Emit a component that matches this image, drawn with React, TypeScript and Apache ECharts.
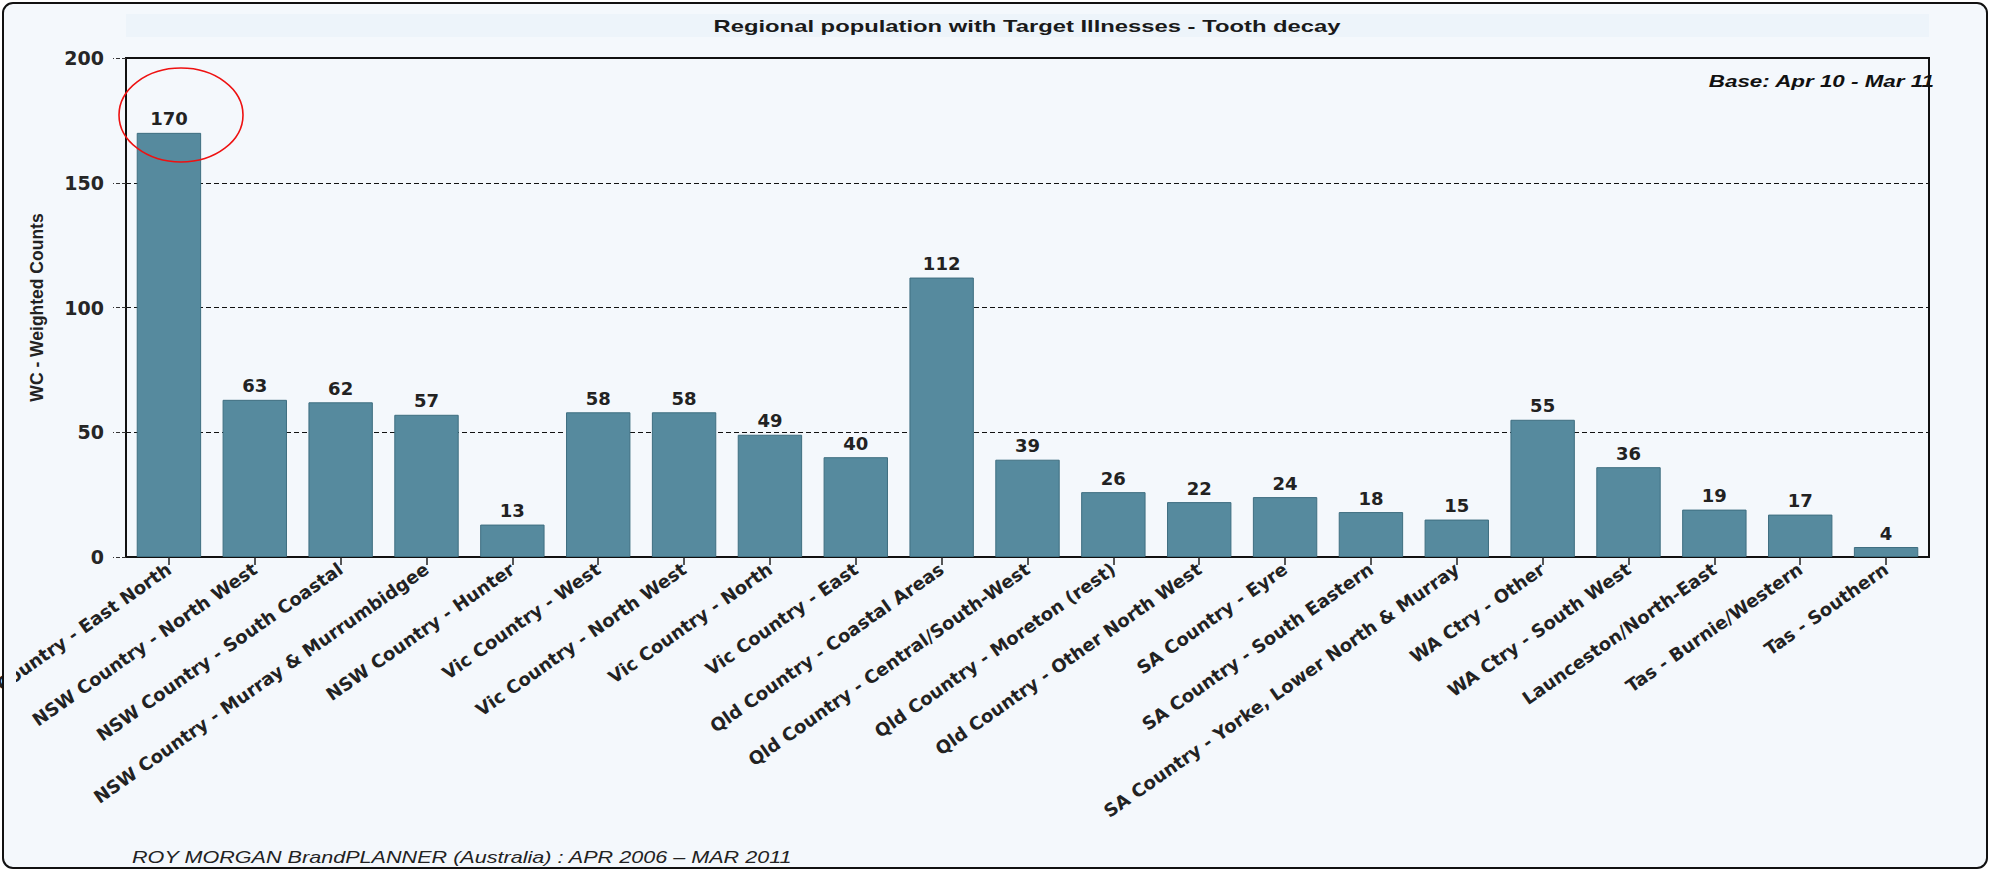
import React, { useEffect, useRef } from "react";
import * as echarts from "echarts";

const categories = [
  "NSW Country - East North",
  "NSW Country - North West",
  "NSW Country - South Coastal",
  "NSW Country - Murray & Murrumbidgee",
  "NSW Country - Hunter",
  "Vic Country - West",
  "Vic Country - North West",
  "Vic Country - North",
  "Vic Country - East",
  "Qld Country - Coastal Areas",
  "Qld Country - Central/South-West",
  "Qld Country - Moreton (rest)",
  "Qld Country - Other North West",
  "SA Country - Eyre",
  "SA Country - South Eastern",
  "SA Country - Yorke, Lower North & Murray",
  "WA Ctry - Other",
  "WA Ctry - South West",
  "Launceston/North-East",
  "Tas - Burnie/Western",
  "Tas - Southern",
];

const values = [170, 63, 62, 57, 13, 58, 58, 49, 40, 112, 39, 26, 22, 24, 18, 15, 55, 36, 19, 17, 4];

const yMin = 0;
const yMax = 200;
const yInterval = 50;

const titleText = "Regional population with Target Illnesses - Tooth decay";
const baseText = "Base: Apr 10 - Mar 11";
const footerText = "ROY MORGAN BrandPLANNER (Australia) : APR 2006 \u2013 MAR 2011";
const yAxisName = "WC - Weighted Counts";

export default function App() {
  const ref = useRef<HTMLDivElement>(null);
  useEffect(() => {
    document.body.style.margin = "0";
    const chart = echarts.init(ref.current!, null, { renderer: "svg" });
    const bg = "#f4f8fc";
    chart.setOption({
      animation: false,
      backgroundColor: "#ffffff",
      grid: {
        left: 126,
        right: 61,
        top: 58,
        bottom: 314,
        show: true,
        borderColor: "#111111",
        borderWidth: 2,
        backgroundColor: "transparent",
        containLabel: false,
        outerBoundsMode: "none",
      },
      xAxis: {
        type: "category",
        data: categories,
        axisLine: { show: true, lineStyle: { color: "#111111", width: 2 } },
        axisTick: { show: true, alignWithLabel: true, length: 8, lineStyle: { color: "#222222", width: 1.5 } },
        axisLabel: {
          rotate: 35,
          margin: 10,
          interval: 0,
          fontFamily: "DejaVu Sans",
          fontWeight: "bold",
          fontSize: 18,
          color: "#222222",
        },
        splitLine: { show: false },
      },
      yAxis: {
        type: "value",
        min: yMin,
        max: yMax,
        interval: yInterval,
        name: yAxisName,
        nameLocation: "middle",
        nameGap: 80,
        nameTextStyle: { fontFamily: "Liberation Sans", fontWeight: "bold", fontSize: 17.5, color: "#222222" },
        axisLine: { show: true, lineStyle: { color: "#111111", width: 2 } },
        axisTick: { show: true, length: 13, lineStyle: { color: "#333333", type: "dashed" } },
        axisLabel: { margin: 22, fontFamily: "DejaVu Sans", fontWeight: "bold", fontSize: 19, color: "#262626" },
        splitLine: { show: true, lineStyle: { color: "#111111", type: [5, 3], width: 1 } },
      },
      series: [
        {
          type: "bar",
          data: values,
          barCategoryGap: "25%",
          itemStyle: { color: "#568A9E", borderColor: "#3E6E80", borderWidth: 1 },
          label: {
            show: true,
            position: "top",
            distance: 5,
            fontFamily: "DejaVu Sans",
            fontWeight: "bold",
            fontSize: 18,
            color: "#222222",
          },
        },
      ],
      graphic: [
        {
          type: "rect",
          z: -10,
          shape: { x: 3, y: 3, width: 1984, height: 865, r: 10 },
          style: { fill: bg, stroke: "none" },
          silent: true,
        },
        {
          type: "rect",
          z: -5,
          shape: { x: 126, y: 14, width: 1803, height: 23 },
          style: { fill: "#edf4fa" },
          silent: true,
        },
        {
          type: "text",
          z: 10,
          x: 1027,
          y: 26,
          scaleX: 1.4,
          style: {
            text: titleText,
            font: "bold 17px 'Liberation Sans'",
            fill: "#1a1a1a",
            textAlign: "center",
            textVerticalAlign: "middle",
            align: "center",
            verticalAlign: "middle",
          },
        },
        {
          type: "text",
          z: 10,
          x: 1934,
          y: 81,
          scaleX: 1.4,
          style: {
            text: baseText,
            font: "italic bold 16px 'Liberation Sans'",
            fill: "#111111",
            textAlign: "right",
            textVerticalAlign: "middle",
            align: "right",
            verticalAlign: "middle",
          },
        },
        {
          type: "text",
          z: 10,
          x: 132,
          y: 858,
          scaleX: 1.35,
          style: {
            text: footerText,
            font: "italic 16px 'Liberation Sans'",
            fill: "#222222",
            textAlign: "left",
            textVerticalAlign: "middle",
            align: "left",
            verticalAlign: "middle",
          },
        },
        {
          type: "rect",
          z: 50,
          shape: { x: 3, y: 560, width: 13, height: 306 },
          style: { fill: bg },
          silent: true,
        },
        {
          type: "ellipse",
          z: 100,
          shape: { cx: 181, cy: 115, rx: 62, ry: 47 },
          style: { fill: "none", stroke: "#ee1111", lineWidth: 1.6 },
          silent: true,
        },
        {
          type: "rect",
          z: 100,
          shape: { x: 3, y: 3, width: 1984, height: 865, r: 10 },
          style: { fill: "none", stroke: "#111111", lineWidth: 2 },
          silent: true,
        },
      ],
    });
    return () => chart.dispose();
  }, []);
  return <div ref={ref} style={{ width: 1990, height: 871 }} />;
}
